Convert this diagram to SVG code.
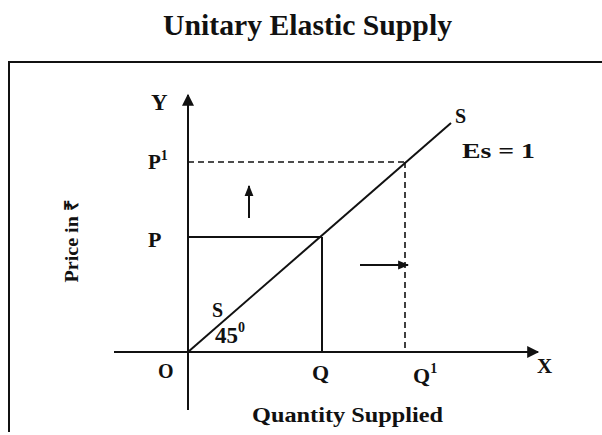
<svg xmlns="http://www.w3.org/2000/svg" width="602" height="435" viewBox="0 0 602 435">
<defs>
<marker id="ah" viewBox="0 0 10 10" refX="9" refY="5" markerWidth="11" markerHeight="11" markerUnits="userSpaceOnUse" orient="auto"><path d="M0,1 L10,5 L0,9 Z" fill="#111"/></marker>
<marker id="ahb" viewBox="0 0 10 10" refX="9" refY="5" markerWidth="14" markerHeight="12" markerUnits="userSpaceOnUse" orient="auto"><path d="M0,0 L10,5 L0,10 Z" fill="#111"/></marker>
</defs>
<style>
.t{font-family:"Liberation Serif",serif;font-weight:bold;fill:#111}
.l{stroke:#111;stroke-width:2;fill:none}
.d{stroke:#111;stroke-width:1.6;fill:none;stroke-dasharray:6,4}
</style>
<rect width="602" height="435" fill="#fff"/>
<text class="t" x="163" y="35" font-size="29" textLength="289" lengthAdjust="spacingAndGlyphs">Unitary Elastic Supply</text>
<g id="frame"><path class="l" d="M602,62 L9,62 L9,432" stroke-width="1.8"/></g>
<g id="connectors">
<line class="l" x1="188" y1="410" x2="188" y2="95" marker-end="url(#ahb)"/>
<line class="l" x1="114" y1="352" x2="538" y2="352" marker-end="url(#ahb)"/>
<line class="l" x1="188" y1="352" x2="451" y2="123" stroke-width="2.4"/>
<line class="d" x1="188" y1="162" x2="405" y2="162"/>
<line class="d" x1="405" y1="162" x2="405" y2="352"/>
<line class="l" x1="188" y1="237" x2="322" y2="237"/>
<line class="l" x1="322" y1="237" x2="322" y2="352"/>
<line class="l" x1="249" y1="218" x2="249" y2="186" marker-end="url(#ah)"/>
<line class="l" x1="360" y1="265" x2="408" y2="265" marker-end="url(#ah)"/>
</g>
<g id="labels">
<text class="t" x="151" y="110" font-size="23">Y</text>
<text class="t" x="148" y="169" font-size="21">P<tspan font-size="14" dy="-9">1</tspan></text>
<text class="t" x="148" y="247" font-size="22">P</text>
<text class="t" x="158" y="378" font-size="20">O</text>
<text class="t" x="312" y="380" font-size="22">Q</text>
<text class="t" x="413" y="383" font-size="22">Q<tspan font-size="14" dy="-10">1</tspan></text>
<text class="t" x="537" y="373" font-size="21">X</text>
<text class="t" x="455" y="123" font-size="20">S</text>
<text class="t" x="462" y="158" font-size="22" textLength="73" lengthAdjust="spacingAndGlyphs">Es = 1</text>
<text class="t" x="212" y="317" font-size="20">S</text>
<text class="t" x="215" y="343" font-size="23">45<tspan font-size="14" dy="-11">0</tspan></text>
<text class="t" x="252" y="422" font-size="20" textLength="191" lengthAdjust="spacingAndGlyphs">Quantity Supplied</text>
<text class="t" transform="translate(78,241) rotate(-90)" text-anchor="middle" font-size="19" textLength="83" lengthAdjust="spacingAndGlyphs">Price in ₹</text>
</g>
</svg>
